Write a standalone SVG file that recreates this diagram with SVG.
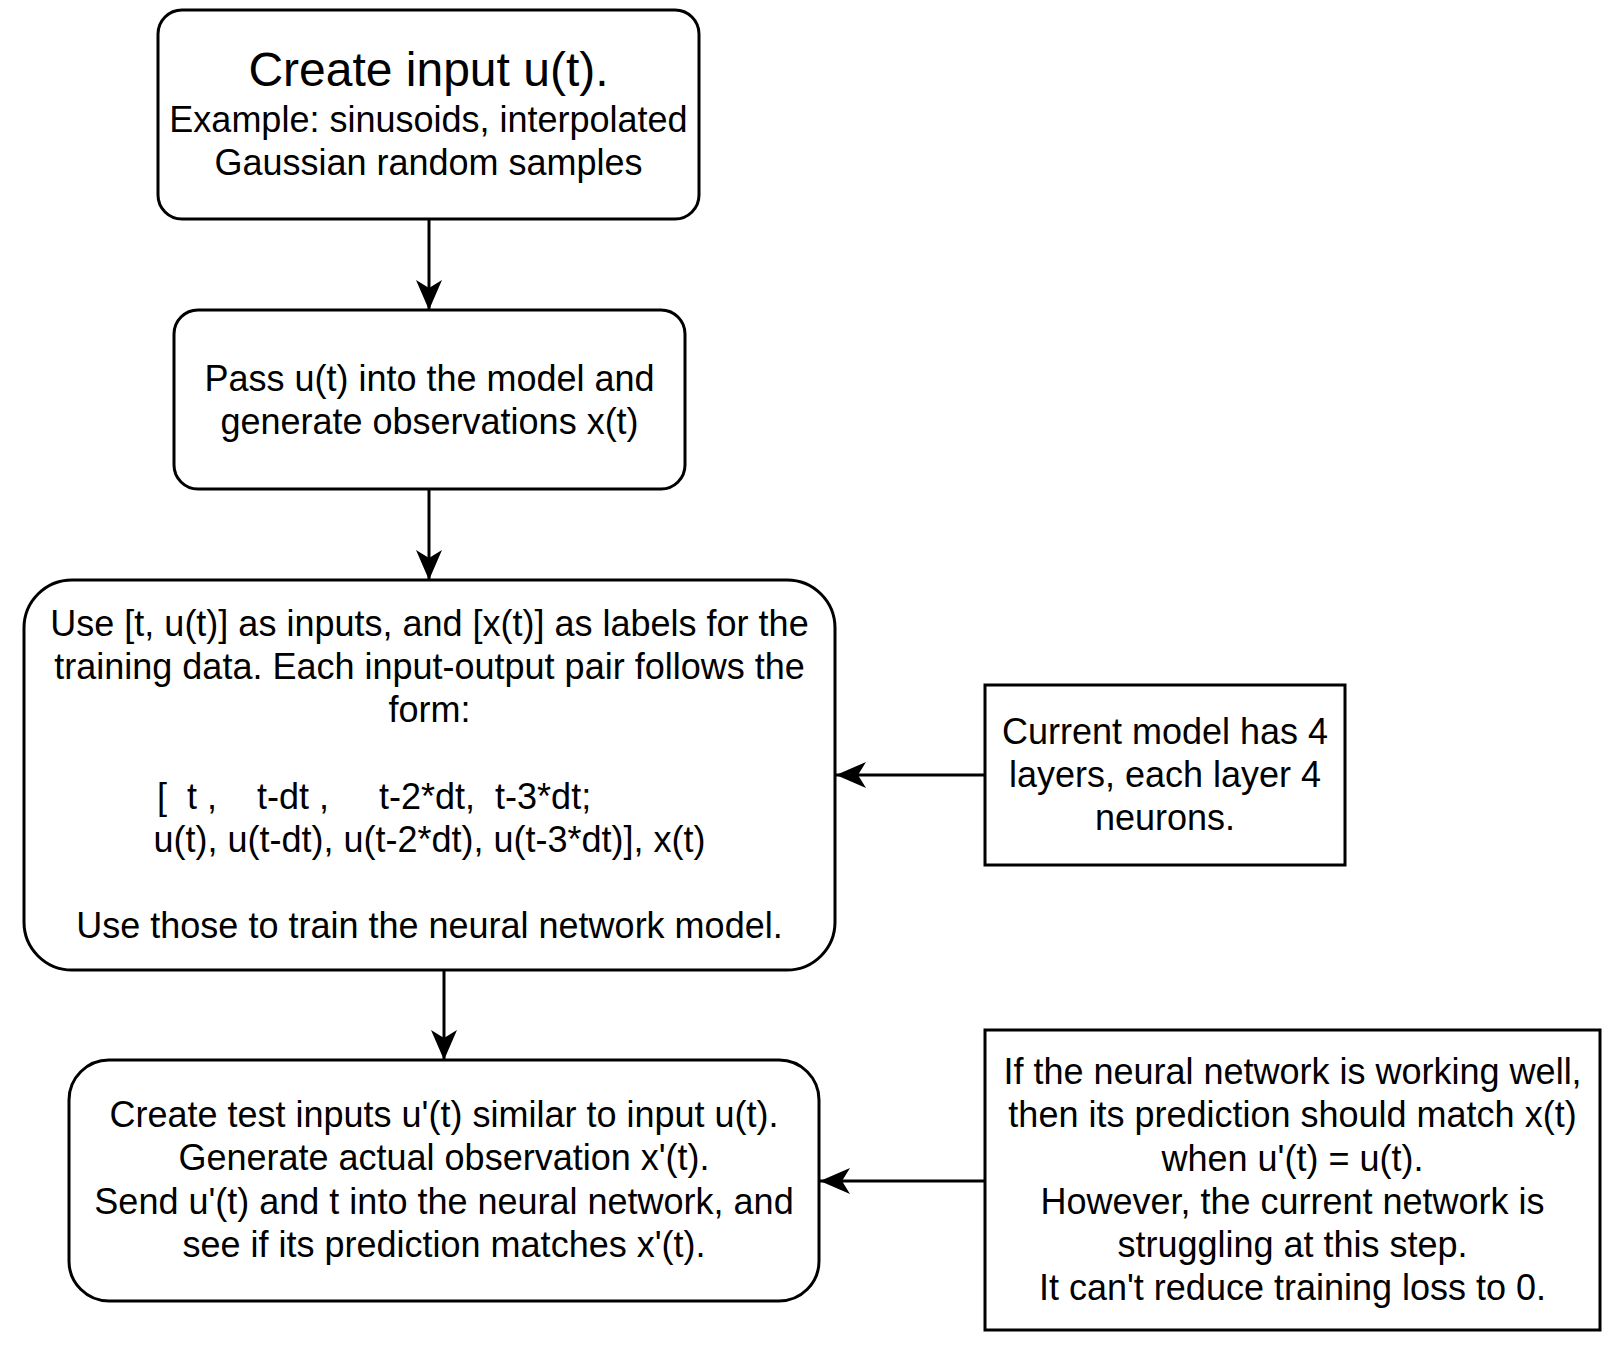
<svg xmlns="http://www.w3.org/2000/svg" width="1620" height="1354" viewBox="0 0 1620 1354">
<defs>
<marker id="arr" viewBox="0 0 30 26" refX="30" refY="13" markerWidth="30" markerHeight="26" markerUnits="userSpaceOnUse" orient="auto">
<path d="M0,0 L30,13 L0,26 L8,13 Z" fill="#000"/>
</marker>
</defs>
<style>
.box{fill:#fff;stroke:#000;stroke-width:3}
.t{font-family:"Liberation Sans",Arial,Helvetica,sans-serif;font-size:36px;fill:#000;text-anchor:middle}
.title{font-size:48px}
.edge{stroke:#000;stroke-width:3;fill:none;marker-end:url(#arr)}
</style>
<rect width="1620" height="1354" fill="#fff"/>
<g id="connectors">
<line class="edge" x1="429" y1="219" x2="429" y2="310"/>
<line class="edge" x1="429" y1="489" x2="429" y2="580"/>
<line class="edge" x1="444" y1="970" x2="444" y2="1060"/>
<line class="edge" x1="985" y1="775" x2="836" y2="775"/>
<line class="edge" x1="985" y1="1181" x2="820" y2="1181"/>
</g>
<g id="node-create-input">
<rect class="box" x="158" y="10" width="541" height="209" rx="24"/>
<text class="t title" x="428.5" y="86">Create input u(t).</text>
<text class="t" x="428.5" y="132">Example: sinusoids, interpolated</text>
<text class="t" x="428.5" y="175">Gaussian random samples</text>
</g>
<g id="node-pass">
<rect class="box" x="174" y="310" width="511" height="179" rx="24"/>
<text class="t" x="429.5" y="391">Pass u(t) into the model and</text>
<text class="t" x="429.5" y="434">generate observations x(t)</text>
</g>
<g id="node-train">
<rect class="box" x="24" y="580" width="811" height="390" rx="48"/>
<text class="t" x="429.5" y="636">Use [t, u(t)] as inputs, and [x(t)] as labels for the</text>
<text class="t" x="429.5" y="679">training data. Each input-output pair follows the</text>
<text class="t" x="429.5" y="722">form:</text>
<text class="t" x="157" y="809" style="text-anchor:start" xml:space="preserve">[  t ,    t-dt ,     t-2*dt,  t-3*dt;</text>
<text class="t" x="429.5" y="852">u(t), u(t-dt), u(t-2*dt), u(t-3*dt)], x(t)</text>
<text class="t" x="429.5" y="938">Use those to train the neural network model.</text>
</g>
<g id="node-test">
<rect class="box" x="69" y="1060" width="750" height="241" rx="40"/>
<text class="t" x="444" y="1127">Create test inputs u'(t) similar to input u(t).</text>
<text class="t" x="444" y="1170">Generate actual observation x'(t).</text>
<text class="t" x="444" y="1214">Send u'(t) and t into the neural network, and</text>
<text class="t" x="444" y="1257">see if its prediction matches x'(t).</text>
</g>
<g id="node-model-note">
<rect class="box" x="985" y="685" width="360" height="180"/>
<text class="t" x="1165" y="744">Current model has 4</text>
<text class="t" x="1165" y="787">layers, each layer 4</text>
<text class="t" x="1165" y="830">neurons.</text>
</g>
<g id="node-struggle-note">
<rect class="box" x="985" y="1030" width="615" height="300"/>
<text class="t" x="1292.5" y="1084">If the neural network is working well,</text>
<text class="t" x="1292.5" y="1127">then its prediction should match x(t)</text>
<text class="t" x="1292.5" y="1171">when u'(t) = u(t).</text>
<text class="t" x="1292.5" y="1214">However, the current network is</text>
<text class="t" x="1292.5" y="1257">struggling at this step.</text>
<text class="t" x="1292.5" y="1300">It can't reduce training loss to 0.</text>
</g>
</svg>
